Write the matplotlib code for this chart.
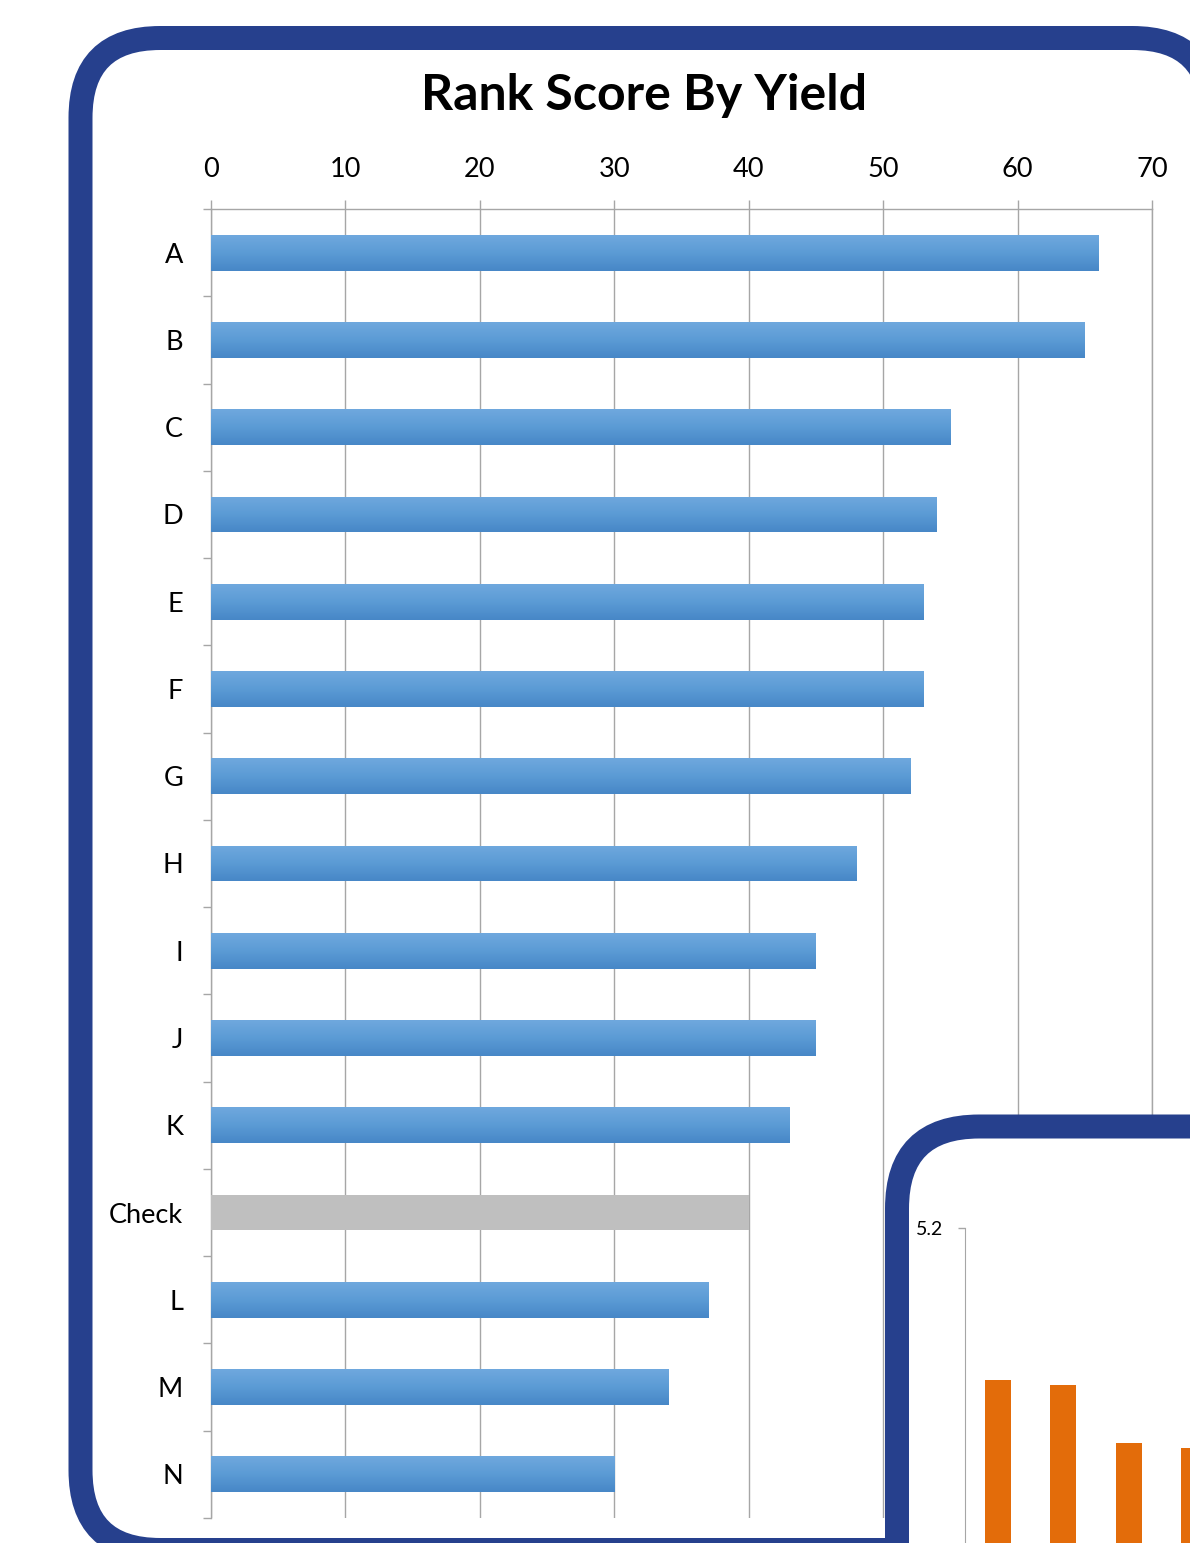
import numpy as np
import matplotlib
matplotlib.use("Agg")
import matplotlib.pyplot as plt
from matplotlib.patches import FancyBboxPatch
from matplotlib.colors import LinearSegmentedColormap

plt.rcParams['font.family'] = ['Lato', 'DejaVu Sans']

# data
categories = ["A", "B", "C", "D", "E", "F", "G", "H", "I", "J", "K", "Check", "L", "M", "N"]
scores = [66, 65, 55, 54, 53, 53, 52, 48, 45, 45, 43, 40, 37, 34, 30]
x_ticks = [0, 10, 20, 30, 40, 50, 60, 70]

# inset chart (only the top-left part is visible)
inset_values = [4.91, 4.90, 4.79, 4.78]
inset_ticks = [5.2]

W, H = 1190, 1543
fig = plt.figure(figsize=(W / 100, H / 100), dpi=100)
fig.patch.set_facecolor("white")

NAVY = "#26408D"
GRID = "#A6A6A6"

def fx(px):
    return px / W

def fy(py):
    return 1 - py / H

# outer frame
frame = FancyBboxPatch((fx(80.5), fy(1550)), fx(1212 - 80.5), (1550 - 38) / H,
                       boxstyle="round,pad=0,rounding_size=0.067",
                       transform=fig.transFigure, facecolor="white",
                       edgecolor=NAVY, linewidth=24 * 0.72, zorder=0,
                       mutation_aspect=W / H)
fig.patches.append(frame)

fig.text(fx(644), fy(96), "Rank Score By Yield", ha="center", va="center",
         fontsize=36, fontweight="bold", color="black")

# main axes
ax = fig.add_axes([fx(211), fy(1518), fx(1152 - 211), (1518 - 209) / H], zorder=1)
ax.set_facecolor("none")
ypos = np.arange(len(categories))
bar_h = 0.41
colors = ["#BFBFBF" if c == "Check" else "#5B9BD5" for c in categories]
bars = ax.barh(ypos, scores, height=bar_h, color=colors, zorder=3)

cmap = LinearSegmentedColormap.from_list("blues", ["#6FA8DE", "#5B9BD5", "#4787C7"])
grad = np.linspace(0, 1, 64).reshape(-1, 1)
for b, c, v in zip(bars, categories, scores):
    if c == "Check":
        continue
    y0 = b.get_y()
    im = ax.imshow(grad, extent=[0, v, y0 + bar_h, y0], origin="upper",
                   cmap=cmap, aspect="auto", zorder=4, interpolation="bilinear")
    im.set_clip_path(b)

ax.set_xlim(0, 70)
ax.set_ylim(len(categories) - 0.5, -0.5)
ax.xaxis.tick_top()
ax.set_xticks(x_ticks)
ax.set_xticklabels([str(t) for t in x_ticks])
ax.tick_params(axis="x", length=6.5, width=1, color=GRID, pad=13, labelsize=19.5)
ax.set_yticks(ypos)
ax.set_yticklabels(categories)
ax.set_yticks(np.arange(-0.5, len(categories)), minor=True)
ax.tick_params(axis="y", which="major", length=0, pad=20, labelsize=19.5)
ax.tick_params(axis="y", which="minor", length=6, width=1, color=GRID)
ax.grid(axis="x", color=GRID, linewidth=1, zorder=1)
ax.set_axisbelow(True)
ax.spines["bottom"].set_visible(False)
for s in ["top", "left", "right"]:
    ax.spines[s].set_color(GRID)
    ax.spines[s].set_linewidth(1)

# inset frame
inset_frame = FancyBboxPatch((fx(897), fy(1700)), fx(1400 - 897), (1700 - 1126.5) / H,
                             boxstyle="round,pad=0,rounding_size=0.069",
                             transform=fig.transFigure, facecolor="white",
                             edgecolor=NAVY, linewidth=24 * 0.72, zorder=5,
                             mutation_aspect=W / H)
fig.add_artist(inset_frame)

# inset axes
iax = fig.add_axes([fx(965), 0, fx(65.5 * len(inset_values)), (1543 - 1228) / H], zorder=6)
iax.set_facecolor("none")
iax.bar(np.arange(len(inset_values)), inset_values, width=0.4, color="#E36C0A")
iax.set_xlim(-0.5, len(inset_values) - 0.5)
iax.set_ylim(4.6, 5.2)
iax.set_yticks(inset_ticks)
iax.set_yticklabels(["5.2"])
iax.set_xticks([])
iax.tick_params(axis="y", length=5, width=1, color=GRID, pad=11, labelsize=14)
for s in ["top", "right", "bottom"]:
    iax.spines[s].set_visible(False)
iax.spines["left"].set_color(GRID)

fig.savefig("out.png", dpi=100)
